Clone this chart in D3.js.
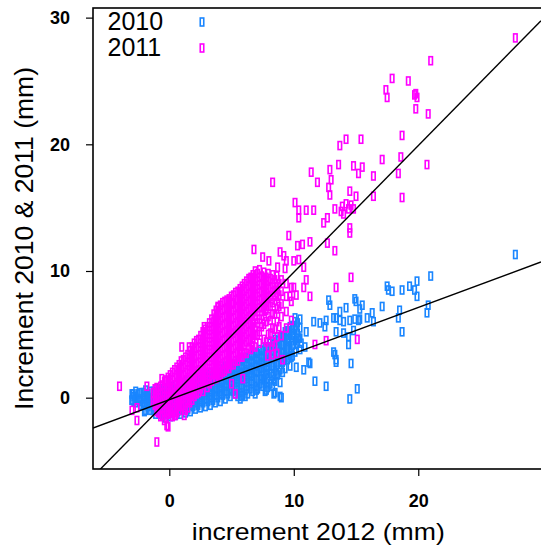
<!DOCTYPE html>
<html><head><meta charset="utf-8">
<script src="https://cdn.jsdelivr.net/npm/d3@7"></script>
<style>
body{margin:0;background:#fff}
svg{display:block}
text{font-family:"Liberation Sans",Arial,Helvetica,sans-serif;fill:#000}
</style>
</head><body>
<svg id="chart" width="541" height="550"></svg>
<script>
// Series labels, axis ticks and least-squares fits (intercept, slope)
const seriesNames = ["2010", "2011"];
const xTicks = [0, 10, 20];
const yTicks = [0, 10, 20, 30];
const fit2010 = [-0.16, 0.364];
const fit2011 = [-0.1, 1.0];

// Dense core of each year: each row is [increment 2012, then the increments of that year]
const band2010 = [
  [-3.0, 0.3, -0.2],
  [-2.85, 0.1, -0.3],
  [-2.7, 0.5, 0.0, -0.4],
  [-2.5, 0.3, -0.2],
  [-2.3, 0.4, -0.1, -0.6],
  [-2.1, 0.4, -0.1, -0.6],
  [-1.9, 0.6, 0.1, -0.4, -1.0],
  [-1.7, 0.3, -0.2, -0.7],
  [-1.5, 0.5, 0.0, -0.5, -1.0],
  [-1.3, 0.5, 0.0, -0.5, -1.0],
  [-1.1, 0.7, 0.2, -0.3, -0.8, -1.3],
  [-0.9, 0.5, 0.0, -0.5, -1.0],
  [-0.7, 0.7, 0.2, -0.3, -0.8, -1.3],
  [-0.5, 0.6, 0.1, -0.4, -0.9, -1.4],
  [-0.3, 0.8, 0.3, -0.2, -0.7, -1.2, -1.6],
  [-0.1, 0.6, 0.1, -0.4, -0.9, -1.3],
  [0.1, 0.9, 0.4, -0.1, -0.6, -1.1, -1.5],
  [0.3, 0.7, 0.2, -0.3, -0.8, -1.2],
  [0.5, 1.0, 0.5, 0.0, -0.5, -1.0, -1.4],
  [0.7, 0.8, 0.3, -0.2, -0.7, -1.1],
  [0.9, 1.1, 0.6, 0.1, -0.4, -0.9, -1.3],
  [1.1, 1.0, 0.5, 0.0, -0.5, -1.0],
  [1.3, 1.3, 0.8, 0.3, -0.2, -0.7, -1.2],
  [1.5, 1.1, 0.6, 0.1, -0.4, -0.9],
  [1.7, 1.4, 0.9, 0.4, -0.1, -0.6, -1.1],
  [1.9, 1.3, 0.8, 0.3, -0.2, -0.7],
  [2.1, 1.6, 1.1, 0.6, 0.1, -0.4, -0.9],
  [2.3, 1.4, 0.9, 0.4, -0.1, -0.6],
  [2.5, 1.7, 1.2, 0.7, 0.2, -0.3, -0.8],
  [2.7, 1.6, 1.1, 0.6, 0.1, -0.4],
  [2.9, 1.9, 1.4, 0.9, 0.4, -0.1, -0.7],
  [3.1, 1.7, 1.2, 0.7, 0.2, -0.3],
  [3.3, 2.0, 1.5, 1.0, 0.5, 0.0, -0.6],
  [3.5, 1.9, 1.4, 0.9, 0.4, -0.2],
  [3.7, 2.2, 1.7, 1.2, 0.7, 0.2, -0.4],
  [3.9, 2.0, 1.5, 1.0, 0.5, 0.0],
  [4.1, 2.3, 1.8, 1.3, 0.8, 0.3, -0.3],
  [4.3, 2.2, 1.7, 1.2, 0.7, 0.2],
  [4.5, 2.5, 2.0, 1.5, 1.0, 0.5, -0.1],
  [4.7, 2.4, 1.9, 1.4, 0.9, 0.3],
  [4.9, 2.7, 2.2, 1.7, 1.2, 0.7, 0.1],
  [5.1, 2.6, 2.1, 1.6, 1.1, 0.5],
  [5.3, 2.9, 2.4, 1.9, 1.4, 0.9, 0.3],
  [5.5, 2.7, 2.2, 1.7, 1.2, 0.6, 0.1],
  [5.7, 3.0, 2.5, 2.0, 1.5, 1.0, 0.4, -0.1],
  [5.9, 2.9, 2.4, 1.9, 1.4, 0.8, 0.2],
  [6.1, 3.2, 2.7, 2.2, 1.7, 1.2, 0.6, 0.1],
  [6.3, 3.1, 2.6, 2.0, 1.5, 0.9, 0.3],
  [6.5, 3.4, 2.9, 2.4, 1.9, 1.3, 0.7],
  [6.7, 3.3, 2.8, 2.2, 1.7, 1.1, 0.5],
  [6.9, 3.6, 3.1, 2.6, 2.1, 1.5, 0.9, 0.3],
  [7.1, 3.5, 3.0, 2.5, 2.0, 1.4, 0.7],
  [7.3, 3.8, 3.3, 2.8, 2.3, 1.7, 1.1],
  [7.5, 3.7, 3.2, 2.7, 2.1, 1.5, 0.9],
  [7.7, 4.0, 3.5, 3.0, 2.4, 1.8, 1.2, 0.5],
  [7.9, 4.0, 3.4, 2.8, 2.2, 1.5, 0.8],
  [8.1, 4.3, 3.7, 3.1, 2.5, 1.9, 1.1],
  [8.3, 4.2, 3.7, 3.1, 2.5, 1.7, 0.9],
  [8.5, 4.6, 4.0, 3.4, 2.8, 2.1, 1.3, 0.4],
  [8.7, 4.5, 3.9, 3.3, 2.6, 1.8],
  [8.9, 4.8, 4.2, 3.6, 2.9, 2.2, 1.2],
  [9.1, 4.8, 4.2, 3.5, 2.8, 2.0],
  [9.3, 5.2, 4.5, 3.8, 3.1, 2.3],
  [9.5, 5.3, 4.6, 3.8, 3.0],
  [9.7, 5.6, 4.9, 4.1, 3.3, 2.5],
  [9.9, 5.7, 4.9, 4.1, 3.3],
  [10.1, 6.0, 5.3, 4.5, 3.6],
  [10.3, 5.9, 5.1, 4.3],
  [10.5, 6.2, 5.5, 4.7, 3.8]
];
// Scattered trees of 2010: [increment 2012, increment 2010]
const scatter2010 = [
  [27.8, 11.3], [21.0, 9.6], [17.5, 8.8], [17.9, 8.4], [17.6, 8.5], [18.7, 8.5], [19.3, 8.8],
  [19.9, 9.2], [19.7, 8.5], [19.9, 8.0], [20.8, 7.3], [20.7, 6.7], [18.5, 6.9], [18.4, 6.3],
  [17.1, 7.2], [16.3, 6.7], [16.4, 6.0], [18.7, 5.2], [15.0, 7.6], [15.5, 7.3], [15.3, 7.0],
  [14.2, 7.1], [13.7, 6.8], [13.4, 6.3], [14.0, 6.0], [14.5, 6.1], [14.9, 6.2], [15.3, 6.2],
  [15.9, 6.3], [15.2, 6.1], [14.0, 5.1], [14.4, 4.8], [14.8, 5.3], [14.4, 4.2], [13.3, 3.4],
  [13.4, 2.8], [14.6, 2.7], [15.1, 0.7], [14.5, -0.1], [12.9, 7.3], [12.8, 7.7], [14.9, 7.8],
  [10.1, 6.3], [10.1, 5.6], [11.0, 5.2], [10.4, 4.7], [10.6, 4.3], [10.0, 4.9], [11.6, 6.0],
  [12.1, 5.9], [12.6, 6.1], [13.2, 6.3], [13.7, 6.1], [12.5, 5.6], [13.4, 5.2], [13.2, 3.6],
  [13.4, 3.0], [11.7, 1.3], [12.6, 0.9], [11.2, 2.8], [10.9, 4.0], [10.2, 4.2], [9.7, 3.9],
  [9.6, 4.6], [9.3, 3.2], [9.8, 3.2], [10.2, 2.4], [10.8, 2.2], [11.3, 2.7], [7.6, 1.4],
  [8.4, 1.4], [7.0, 0.6], [7.8, 0.6], [8.4, 0.3], [8.9, 0.1], [9.0, 0.0], [5.8, 0.1],
  [4.9, 0.6], [7.3, 2.4], [7.8, 1.9], [8.6, 1.9], [6.5, 1.9], [-2.9, 0.3], [-2.7, 0.0],
  [-3.0, -0.2], [-2.4, -0.3], [-2.1, -0.6], [-1.8, 0.2], [-1.6, 0.0], [-2.0, -1.1], [-1.3, -1.0],
  [1.9, -0.2], [2.5, 0.0], [3.3, 0.2], [4.1, 0.5]
];

const band2011 = [
  [-1.3, 0.4, -0.3],
  [-1.15, 0.7, 0.0, -0.6],
  [-1.0, 0.2, -0.5, -1.1],
  [-0.85, 0.6, 0.0, -0.6, -1.2],
  [-0.7, 0.3, -0.3, -0.9, -1.5],
  [-0.55, 1.0, 0.4, -0.2, -0.8, -1.4],
  [-0.4, 1.3, 0.7, 0.1, -0.5, -1.1, -1.8],
  [-0.25, 1.3, 0.7, 0.1, -0.5, -1.1, -1.6],
  [-0.1, 1.6, 1.0, 0.4, -0.2, -0.8, -1.3],
  [0.07, 1.8, 1.2, 0.6, 0.0, -0.6, -1.2],
  [0.25, 2.0, 1.4, 0.8, 0.2, -0.4, -1.0, -1.5],
  [0.42, 2.2, 1.6, 1.0, 0.4, -0.2, -0.8, -1.4],
  [0.6, 2.4, 1.8, 1.2, 0.6, 0.0, -0.6, -1.2],
  [0.78, 2.6, 2.0, 1.4, 0.8, 0.2, -0.4, -1.0],
  [0.95, 2.9, 2.3, 1.7, 1.1, 0.5, -0.1, -0.7],
  [1.12, 3.0, 2.4, 1.8, 1.2, 0.6, 0.0, -0.6],
  [1.3, 3.2, 2.6, 2.0, 1.4, 0.8, 0.2, -0.4, -1.0],
  [1.48, 3.4, 2.8, 2.2, 1.6, 1.0, 0.4, -0.2, -0.8],
  [1.65, 3.7, 3.1, 2.5, 1.9, 1.3, 0.7, 0.1, -0.4],
  [1.82, 4.0, 3.4, 2.8, 2.2, 1.6, 1.0, 0.4, -0.2],
  [2.0, 4.3, 3.7, 3.1, 2.5, 1.9, 1.3, 0.7, 0.1],
  [2.18, 4.5, 3.9, 3.3, 2.7, 2.1, 1.5, 0.9, 0.3],
  [2.35, 4.6, 4.0, 3.4, 2.8, 2.2, 1.6, 1.0, 0.4],
  [2.52, 4.9, 4.3, 3.7, 3.1, 2.5, 1.9, 1.3, 0.7],
  [2.7, 5.2, 4.6, 4.0, 3.4, 2.8, 2.2, 1.6, 1.0, 0.5],
  [2.88, 5.4, 4.8, 4.2, 3.6, 3.0, 2.4, 1.8, 1.2],
  [3.05, 5.6, 5.0, 4.4, 3.8, 3.2, 2.6, 2.0, 1.4, 0.8],
  [3.22, 5.9, 5.3, 4.7, 4.1, 3.5, 2.9, 2.3, 1.7, 1.1],
  [3.4, 6.2, 5.6, 5.0, 4.4, 3.8, 3.2, 2.6, 2.0, 1.3],
  [3.58, 6.6, 6.0, 5.4, 4.8, 4.2, 3.6, 3.0, 2.4, 1.8],
  [3.75, 6.9, 6.3, 5.7, 5.1, 4.5, 3.9, 3.3, 2.7, 2.1, 1.5],
  [3.92, 7.1, 6.5, 5.9, 5.3, 4.7, 4.1, 3.5, 2.9, 2.3, 1.7],
  [4.1, 7.3, 6.7, 6.1, 5.5, 4.9, 4.3, 3.7, 3.1, 2.5, 1.8],
  [4.28, 7.5, 6.9, 6.3, 5.7, 5.1, 4.5, 3.9, 3.3, 2.7, 2.0],
  [4.45, 7.6, 7.0, 6.4, 5.8, 5.2, 4.6, 4.0, 3.4, 2.8, 2.1],
  [4.62, 7.7, 7.1, 6.5, 5.9, 5.3, 4.7, 4.1, 3.5, 2.9, 2.3],
  [4.8, 7.8, 7.2, 6.6, 6.0, 5.4, 4.8, 4.2, 3.6, 3.0, 2.3],
  [4.98, 8.0, 7.4, 6.8, 6.2, 5.6, 5.0, 4.4, 3.8, 3.2, 2.6],
  [5.15, 8.1, 7.5, 6.9, 6.3, 5.7, 5.1, 4.5, 3.9, 3.3, 2.6],
  [5.32, 8.3, 7.7, 7.1, 6.5, 5.9, 5.3, 4.7, 4.1, 3.5, 2.9],
  [5.5, 8.4, 7.8, 7.2, 6.6, 6.0, 5.4, 4.8, 4.2, 3.6, 2.9],
  [5.68, 8.6, 8.0, 7.4, 6.8, 6.2, 5.6, 5.0, 4.4, 3.8, 3.2],
  [5.85, 8.8, 8.2, 7.6, 7.0, 6.4, 5.8, 5.2, 4.6, 4.0, 3.2],
  [6.02, 9.0, 8.4, 7.8, 7.2, 6.6, 6.0, 5.4, 4.8, 4.2, 3.5],
  [6.2, 9.2, 8.6, 8.0, 7.4, 6.8, 6.2, 5.6, 5.0, 4.4, 3.5],
  [6.38, 9.4, 8.8, 8.2, 7.6, 7.0, 6.4, 5.8, 5.2, 4.6, 3.9],
  [6.55, 9.5, 8.9, 8.3, 7.7, 7.1, 6.5, 5.9, 5.3, 4.6, 3.8],
  [6.72, 9.7, 9.1, 8.5, 7.9, 7.3, 6.7, 6.1, 5.4, 4.7, 4.1],
  [6.9, 10.0, 9.4, 8.8, 8.2, 7.6, 7.0, 6.4, 5.6, 4.9, 4.0],
  [7.08, 9.8, 9.2, 8.6, 8.0, 7.4, 6.8, 5.9, 5.0],
  [7.25, 10.1, 9.5, 8.9, 8.3, 7.7, 7.1, 6.2, 5.2, 4.3],
  [7.42, 9.6, 9.0, 8.4, 7.8, 7.2, 6.5, 5.6],
  [7.6, 9.9, 9.3, 8.7, 8.1, 7.5, 6.8, 5.8, 4.6],
  [7.78, 9.5, 8.9, 8.3, 7.6, 6.9, 6.0, 4.4],
  [7.95, 9.8, 9.2, 8.6, 7.9, 7.2, 6.4, 5.0, 4.0],
  [8.12, 9.4, 8.7, 8.0, 7.2, 6.1, 5.1],
  [8.3, 9.7, 9.0, 8.3, 7.5, 6.6, 5.5, 4.4],
  [8.48, 9.3, 8.5, 7.7, 6.6, 5.4, 4.1],
  [8.65, 9.6, 8.8, 8.0, 7.0, 6.0, 4.8, 3.5],
  [8.82, 9.0, 8.1, 7.2, 5.6],
  [9.0, 9.3, 8.4, 7.4, 6.4, 4.9],
  [9.4, 9.0, 8.0, 6.8, 5.5],
  [9.8, 8.7, 7.6, 6.1]
];
const scatter2011 = [
  [27.8, 28.4], [21.0, 26.6], [17.9, 25.2], [19.2, 25.0], [17.4, 24.3], [17.5, 23.7], [19.7, 23.9],
  [19.9, 23.7], [19.8, 24.0], [19.8, 22.8], [20.8, 22.4], [18.7, 20.7], [14.2, 20.4], [13.7, 19.9],
  [15.4, 20.4], [17.1, 18.8], [18.6, 19.0], [20.7, 18.4], [13.6, 18.4], [14.8, 18.3], [15.5, 18.2],
  [15.2, 17.7], [16.4, 17.5], [18.4, 17.7], [11.4, 17.8], [11.9, 17.0], [12.9, 18.0], [13.0, 17.2],
  [12.8, 16.6], [12.9, 16.0], [14.5, 16.3], [15.0, 15.9], [16.4, 15.9], [18.7, 15.8], [13.9, 15.1],
  [14.6, 15.2], [14.8, 14.9], [14.0, 14.5], [14.4, 14.9], [13.8, 14.7], [14.2, 15.3], [14.5, 13.4],
  [14.5, 13.0], [8.3, 17.0], [9.6, 12.8], [6.8, 11.7], [7.5, 11.1], [8.0, 10.8], [8.9, 11.5],
  [9.2, 11.2], [8.7, 10.3], [6.5, 9.4], [3.9, 7.2], [4.6, 7.1], [5.1, 7.4], [10.1, 15.4],
  [10.4, 14.8], [10.4, 14.2], [11.0, 14.8], [11.6, 14.8], [13.3, 14.9], [12.7, 14.2], [12.4, 13.8],
  [10.7, 12.1], [11.3, 12.3], [10.3, 12.0], [12.7, 12.2], [13.3, 11.6], [9.4, 10.8], [10.0, 10.8],
  [10.4, 10.9], [10.8, 10.3], [9.3, 10.2], [14.6, 9.5], [13.4, 8.7], [11.0, 9.3], [10.8, 8.7],
  [11.3, 8.0], [9.7, 8.0], [10.0, 8.7], [10.2, 8.1], [11.7, 4.2], [12.6, 4.5], [15.1, 4.6],
  [8.3, 3.4], [9.1, 3.0], [7.9, 3.3], [5.9, 1.5], [5.3, 0.3], [5.0, 1.1], [-4.0, 0.9],
  [-1.0, -3.5], [-1.8, 0.9], [1.0, 4.0], [1.6, 4.0], [2.8, 5.6], [-0.6, 1.5], [-0.3, 1.4],
  [-1.0, 0.8], [-0.7, 0.9], [-2.6, -1.8], [-0.2, -2.2], [-0.1, -2.3], [1.2, -1.4], [0.1, -1.2],
  [0.5, -1.4], [-3.0, -1.0], [-2.6, -0.8]
];

const svg = d3.select("#chart");
const x = d3.scaleLinear().domain([-6.13, 29.86]).range([93, 541]);
const y = d3.scaleLinear().domain([-5.63, 30.76]).range([469, 8]);

const expand = band => band.flatMap(([bx, ...ys]) => ys.map(v => [bx, v]));
const series = [
  { name: seriesNames[0], color: "#1a86ff", points: expand(band2010).concat(scatter2010), fit: fit2010 },
  { name: seriesNames[1], color: "#ff00ff", points: expand(band2011).concat(scatter2011), fit: fit2011 }
];

svg.append("defs").append("clipPath").attr("id", "plotClip")
  .append("rect").attr("x", 93).attr("y", 8).attr("width", 460).attr("height", 461);

const plot = svg.append("g").attr("clip-path", "url(#plotClip)");

// Hollow rectangular markers, 2010 underneath 2011
const mw = 3.5, mh = 8;
series.forEach(s => {
  plot.append("g").selectAll("rect").data(s.points).join("rect")
    .attr("x", d => x(d[0]) - mw / 2)
    .attr("y", d => y(d[1]) - mh / 2)
    .attr("width", mw).attr("height", mh)
    .attr("fill", "none").attr("stroke", s.color).attr("stroke-width", 1.6);
});

// Fitted lines spanning the full x range
const xDom = x.domain();
const line = d3.line().x(d => x(d[0])).y(d => y(d[1]));
series.forEach(s => {
  plot.append("path")
    .attr("d", line(xDom.map(v => [v, s.fit[0] + s.fit[1] * v])))
    .attr("fill", "none").attr("stroke", "#000").attr("stroke-width", 1.4);
});

// Plot frame
svg.append("rect").attr("x", 93).attr("y", 8).attr("width", 460).attr("height", 461)
  .attr("fill", "none").attr("stroke", "#000").attr("stroke-width", 1.6);

// Axes
const yAxis = svg.append("g").attr("transform", "translate(93,0)")
  .call(d3.axisLeft(y).tickValues(yTicks).tickSize(7).tickPadding(16).tickFormat(d3.format("d")));
const xAxis = svg.append("g").attr("transform", "translate(0,469)")
  .call(d3.axisBottom(x).tickValues(xTicks).tickSize(7).tickPadding(18).tickFormat(d3.format("d")));
[yAxis, xAxis].forEach(a => {
  a.select(".domain").remove();
  a.selectAll(".tick line").attr("stroke", "#000").attr("stroke-width", 1.2);
  a.selectAll(".tick text").attr("fill", "#000")
    .style("font-family", "'Liberation Sans', Arial, sans-serif")
    .style("font-size", "18px").style("font-weight", "bold");
});

// Axis titles
svg.append("text").attr("x", 318.3).attr("y", 540).attr("text-anchor", "middle")
  .attr("textLength", 253).attr("lengthAdjust", "spacingAndGlyphs")
  .style("font-size", "24px").text("increment 2012 (mm)");
svg.append("text").attr("transform", "translate(33,238.5) rotate(-90)").attr("text-anchor", "middle")
  .attr("textLength", 343).attr("lengthAdjust", "spacingAndGlyphs")
  .style("font-size", "26px").text("Increment 2010 & 2011 (mm)");

// Legend
const legend = svg.append("g");
series.forEach((s, i) => {
  const ly = 30 + i * 26;
  legend.append("text").attr("x", 107.5).attr("y", ly).style("font-size", "25px").text(s.name);
  legend.append("rect").attr("x", 202 - mw / 2).attr("y", ly - 8 - mh / 2)
    .attr("width", mw).attr("height", mh)
    .attr("fill", "none").attr("stroke", s.color).attr("stroke-width", 1.6);
});
</script>
</body></html>
